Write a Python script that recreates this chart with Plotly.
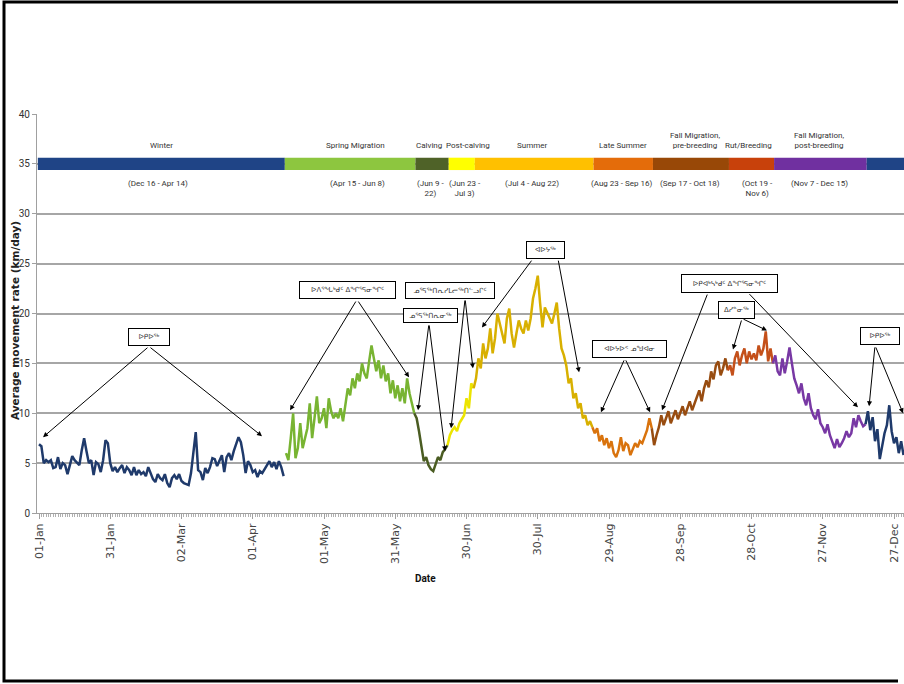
import pandas as pd
import plotly.graph_objects as go

YEAR_START = pd.Timestamp("2015-01-01")

# ---------------- data ----------------
season_names = ["Winter", "Spring Migration", "Calving", "Post-calving", "Summer",
                "Late Summer", "Fall Migration,<br>pre-breeding", "Rut/Breeding",
                "Fall Migration,<br>post-breeding", ""]
season_ranges = ["(Dec 16 - Apr 14)", "(Apr 15 - Jun 8)", "(Jun 9 -<br>22)", "(Jun 23 -<br>Jul 3)",
                 "(Jul 4 - Aug 22)", "(Aug 23 - Sep 16)", "(Sep 17 - Oct 18)", "(Oct 19 -<br>Nov 6)",
                 "(Nov 7 - Dec 15)", ""]
season_start = ["2015-01-01", "2015-04-15", "2015-06-09", "2015-06-23", "2015-07-04",
                "2015-08-23", "2015-09-17", "2015-10-19", "2015-11-07", "2015-12-16"]
season_end = ["2015-04-14", "2015-06-08", "2015-06-22", "2015-07-03", "2015-08-22",
              "2015-09-16", "2015-10-18", "2015-11-06", "2015-12-15", "2015-12-31"]
season_bar_colors = ["#1f4486", "#8dc63f", "#4f6228", "#ffff00", "#ffc000",
                     "#e46c0a", "#984807", "#c8410b", "#7030a0", "#1f4486"]
season_line_colors = ["#1f3a6b", "#78b432", "#4a5c22", "#ece400", "#d8b000",
                      "#d9730d", "#984c10", "#c4501a", "#7838a4", "#1f3a6b"]

rate_winter_early = [6.9, 6.7, 5.0, 5.3, 5.1, 5.3, 4.5, 4.6, 5.6, 4.4,
                     5.0, 4.8, 3.9, 4.8, 5.7, 5.3, 5.0, 4.8, 6.3, 7.5,
                     6.2, 5.0, 5.3, 3.8, 5.1, 4.9, 4.1, 5.3, 7.3, 7.0,
                     5.0, 4.2, 4.6, 4.1, 4.5, 4.8, 4.0, 4.6, 4.3, 3.8,
                     4.6, 3.8, 4.3, 3.9, 4.1, 3.7, 4.6, 4.0, 3.4, 3.1,
                     3.9, 3.5, 3.3, 3.9, 3.0, 2.6, 3.5, 3.8, 3.4, 3.9,
                     3.2, 3.0, 2.9, 2.8, 4.0, 6.0, 8.1, 4.3, 4.1, 3.3,
                     4.5, 4.0, 4.6, 5.5, 5.4, 4.7, 5.2, 5.8, 4.1, 5.6,
                     6.0, 5.3, 6.2, 6.9, 7.6, 7.1, 5.8, 4.0, 5.2, 4.8,
                     4.1, 4.3, 3.6, 4.2, 4.0, 4.4, 4.8, 5.2, 4.6, 5.1,
                     4.4, 5.2, 4.6, 3.7]
rate_spring = [6.0, 5.3, 7.5, 10.0, 5.5, 6.5, 9.0, 6.5, 7.5, 8.5,
               11.0, 7.5, 9.5, 11.7, 9.0, 9.5, 10.5, 8.5, 11.5, 10.2,
               9.5, 10.0, 9.5, 10.5, 9.2, 10.8, 12.5, 11.8, 13.5, 12.5,
               14.0, 13.2, 15.0, 14.0, 13.5, 15.2, 16.8, 15.5, 14.2, 15.3,
               13.5, 14.8, 13.2, 14.0, 12.0, 13.3, 11.5, 12.8, 11.2, 12.5,
               11.0, 13.5, 12.0, 11.0, 10.0]
rate_calving = [9.5, 8.2, 6.5, 5.2, 5.6, 4.8, 4.4, 4.2, 4.9, 5.6, 5.3, 6.1, 6.4, 6.8]
rate_post_calving = [7.8, 8.3, 8.6, 8.2, 9.0, 9.4, 9.8, 11.5, 10.5, 13.0, 12.5]
rate_summer = [13.5, 15.5, 14.5, 17.0, 15.5, 16.5, 18.5, 16.0, 17.5, 20.0,
               19.0, 18.3, 17.0, 19.5, 20.5, 18.0, 16.6, 18.0, 19.3, 18.5,
               18.0, 19.3, 18.3, 19.5, 21.5, 22.5, 23.8, 21.0, 18.6, 20.6,
               20.0, 19.5, 19.0, 20.0, 21.1, 18.5, 16.5, 15.8, 14.8, 13.0,
               13.5, 11.5, 12.0, 10.5, 11.0, 9.5, 9.8, 8.8, 9.2, 8.6]
rate_late_summer = [8.0, 8.5, 7.2, 7.8, 6.8, 7.5, 6.5, 7.2, 6.0, 5.6,
                    6.3, 7.6, 6.2, 7.0, 6.8, 5.8, 6.5, 7.0, 6.6, 7.2,
                    7.0, 7.6, 8.3, 9.5, 8.5]
rate_fall_pre = [6.8, 7.8, 8.6, 9.8, 8.8, 9.5, 10.2, 9.0, 9.6, 10.3,
                 9.4, 10.0, 10.7, 9.8, 10.5, 11.2, 10.3, 11.0, 11.8, 12.3,
                 11.2, 12.5, 13.3, 12.6, 14.2, 13.4, 14.8, 15.2, 13.8, 14.5,
                 15.5, 14.3]
rate_rut = [14.8, 13.8, 15.5, 16.2, 14.8, 15.8, 16.5, 15.0, 16.2, 15.4,
            16.0, 15.3, 16.8, 15.8, 16.5, 18.2, 15.2, 16.5, 15.0]
rate_fall_post = [15.8, 14.2, 13.8, 15.5, 14.0, 15.2, 16.6, 15.0, 13.5, 12.8,
                  12.0, 13.0, 11.5, 10.8, 12.0, 10.5, 9.8, 9.4, 10.4, 9.0,
                  8.6, 8.0, 8.9, 7.8, 7.2, 6.5, 7.4, 6.6, 7.0, 7.5,
                  8.2, 7.6, 8.0, 9.5, 8.6, 9.8, 9.2, 8.7, 8.9]
rate_winter_late = [10.2, 8.3, 9.6, 7.2, 8.4, 5.4, 6.8, 8.0, 8.8, 10.8,
                    8.2, 7.0, 7.6, 6.0, 7.2, 5.8]

season_rates = [rate_winter_early, rate_spring, rate_calving, rate_post_calving, rate_summer,
                rate_late_summer, rate_fall_pre, rate_rut, rate_fall_post, rate_winter_late]

tick_dates = ["2015-01-01", "2015-01-31", "2015-03-02", "2015-04-01", "2015-05-01",
              "2015-05-31", "2015-06-30", "2015-07-30", "2015-08-29", "2015-09-28",
              "2015-10-28", "2015-11-27", "2015-12-27"]
tick_labels = ["01-Jan", "31-Jan", "02-Mar", "01-Apr", "01-May", "31-May", "30-Jun",
               "30-Jul", "29-Aug", "28-Sep", "28-Oct", "27-Nov", "27-Dec"]
y_ticks = [0, 5, 10, 15, 20, 25, 30, 35, 40]

callout_texts = ["ᐅᑭᐅᖅ", "ᐅᐱᕐᖓᒃᑯᑦ ᐃᖏᕐᕋᓂᖏᑦ", "ᓄᕐᕋᖅᑎᕆᓂᖅ", "ᓄᕐᕋᖅᑎᕆᓯᒪᓕᖅᑎᓪᓗᒋᑦ",
                 "ᐊᐅᔭᖅ", "ᐊᐅᔭᐅᑉ ᓄᖑᐊᓂ", "ᐅᑭᐊᒃᓴᒃᑯᑦ ᐃᖏᕐᕋᓂᖏᑦ", "ᐃᓯᓐᓂᖅ", "ᐅᑭᐅᖅ"]

# ---------------- layout helpers ----------------
def day(d):
    return (YEAR_START + pd.Timedelta(days=d)).strftime("%Y-%m-%d %H:%M:%S")

SEASON_BAR_Y = 35.0
BAR_HALF = 0.62
name_label_day = [51.4, 133.3, 164.4, 180.6, 207.4, 245.7, 276.0, 298.7, 328.2]
range_label_day = [49.9, 133.9, 164.8, 179.4, 207.4, 245.1, 273.9, 302.5, 328.8]

# callout geometry: (box centre day, box centre value, width px, height px), arrows (tail d, tail v, head d, head v)
callout_geom = [
    ((46.3, 17.6, 42, 18), [(46.3, 16.7, 1.7, 7.6), (46.3, 16.7, 93.9, 7.7)]),
    ((129.9, 22.4, 97, 18), [(133.9, 21.4, 105.7, 10.3), (133.9, 21.4, 155.8, 13.6)]),
    ((164.8, 19.75, 55, 15), [(164.2, 19.0, 159.6, 10.3), (164.2, 19.0, 171.0, 6.2)]),
    ((173.1, 22.35, 90, 17), [(179.4, 21.5, 173.5, 8.5), (179.4, 21.5, 182.7, 14.5)]),
    ((213.3, 26.4, 39, 18), [(208.0, 25.5, 186.5, 18.6), (218.5, 25.5, 227.4, 14.1)]),
    ((248.6, 16.4, 75, 18), [(246.7, 15.5, 236.6, 10.1), (246.7, 15.5, 257.3, 10.1)]),
    ((290.7, 23.05, 97, 19), [(281.7, 22.1, 262.3, 10.3), (298.5, 22.1, 344.8, 10.6)]),
    ((293.7, 20.4, 37, 18), [(296.0, 19.5, 292.2, 16.4), (296.0, 19.5, 306.5, 18.3)]),
    ((354.1, 17.7, 40, 18), [(352.0, 16.8, 349.5, 10.7), (352.0, 16.8, 363.8, 10.0)]),
]

LABEL_FONT = "Roboto, Liberation Sans Narrow, sans-serif"

fig = go.Figure()

# season rate lines
prev_x, prev_y = None, None
for i, vals in enumerate(season_rates):
    xs = list(pd.date_range(season_start[i], periods=len(vals), freq="D"))
    ys = list(vals)
    if i >= 2 and prev_x is not None:
        xs = [prev_x] + xs
        ys = [prev_y] + ys
    fig.add_trace(go.Scatter(x=xs, y=ys, mode="lines",
                             line=dict(color=season_line_colors[i], width=2.5),
                             showlegend=False, hoverinfo="skip"))
    prev_x, prev_y = xs[-1], ys[-1]

shapes = []
annotations = []

# season bar
for i, s in enumerate(season_start):
    x0 = pd.Timestamp(s) - pd.Timedelta(hours=12)
    x1 = pd.Timestamp(season_end[i]) + pd.Timedelta(hours=12 if i < len(season_start) - 1 else 36)
    shapes.append(dict(type="rect", xref="x", yref="y", x0=x0, x1=x1,
                       y0=SEASON_BAR_Y - BAR_HALF, y1=SEASON_BAR_Y + BAR_HALF,
                       fillcolor=season_bar_colors[i], line=dict(width=0), layer="above"))

for i in range(9):
    annotations.append(dict(x=day(name_label_day[i]), y=36.2, xref="x", yref="y",
                            text=season_names[i], showarrow=False, xanchor="center", yanchor="bottom",
                            font=dict(family=LABEL_FONT, size=8, color="#333333")))
    annotations.append(dict(x=day(range_label_day[i]), y=33.7, xref="x", yref="y",
                            text=season_ranges[i], showarrow=False, xanchor="center", yanchor="top",
                            font=dict(family=LABEL_FONT, size=8, color="#333333")))

# callout boxes & arrows
for txt, (box, arrows) in zip(callout_texts, callout_geom):
    bd, bv, bw, bh = box
    for (td, tv, hd, hv) in arrows:
        annotations.append(dict(x=day(hd), y=hv, xref="x", yref="y",
                                ax=day(td), ay=tv, axref="x", ayref="y",
                                text=" ", font=dict(size=1), showarrow=True,
                                arrowhead=2, arrowsize=1, arrowwidth=1, arrowcolor="#000000",
                                standoff=0, startstandoff=0))
    annotations.append(dict(x=day(bd), y=bv, xref="x", yref="y", text=txt, showarrow=False,
                            xanchor="center", yanchor="middle", width=bw - 2, height=bh - 2,
                            bgcolor="#ffffff", bordercolor="#000000", borderwidth=1, borderpad=0,
                            font=dict(family="DejaVu Sans", size=7, color="#333333")))

# axis titles
annotations.append(dict(x=(15 - 37) / 867, y=(513 - 321) / 399, xref="paper", yref="paper",
                        text="<b>Average movement rate (km/day)</b>", textangle=-90, showarrow=False,
                        xanchor="center", yanchor="middle",
                        font=dict(family="DejaVu Sans", size=10.5, color="#222222")))
annotations.append(dict(x=(425.5 - 37) / 867, y=(513 - 578) / 399, xref="paper", yref="paper",
                        text="<b>Date</b>", showarrow=False, xanchor="center", yanchor="middle",
                        font=dict(family=LABEL_FONT, size=10, color="#111111")))

# outer frame as one open path (left, top, bottom edges)
fx0 = (4 - 37) / 867
fx1 = (898 - 37) / 867
fy0 = (513 - 681) / 399
fy1 = (513 - 2) / 399
frame_path = f"M {fx1},{fy1} L {fx0},{fy1} L {fx0},{fy0} L {fx1},{fy0}"
shapes.append(dict(type="path", xref="paper", yref="paper", path=frame_path,
                   line=dict(color="#000000", width=3), fillcolor="rgba(0,0,0,0)", layer="above"))

x_lo = YEAR_START + pd.Timedelta(days=-0.84)
x_hi = YEAR_START + pd.Timedelta(days=364.2)

fig.update_layout(
    width=904, height=684,
    margin=dict(l=37, r=0, t=114, b=171, pad=0),
    paper_bgcolor="#ffffff", plot_bgcolor="#ffffff",
    shapes=shapes, annotations=annotations,
    xaxis=dict(type="date", range=[x_lo, x_hi], tickvals=tick_dates, ticktext=tick_labels,
               tickangle=-90, showgrid=False, zeroline=False,
               showline=True, linecolor="#a0a0a0", linewidth=1,
               ticks="outside", ticklen=5, tickcolor="#a0a0a0",
               minor=dict(dtick=86400000, ticks="outside", ticklen=3, tickcolor="#b0b0b0"),
               tickfont=dict(family="DejaVu Sans", size=11, color="#444444")),
    yaxis=dict(range=[0, 40], tickvals=y_ticks, showgrid=True, gridcolor="#a6a6a6", gridwidth=2,
               zeroline=False, showline=True, linecolor="#a0a0a0", linewidth=1,
               ticks="outside", ticklen=4, tickcolor="#a0a0a0",
               tickfont=dict(family=LABEL_FONT, size=10, color="#333333")),
)

fig.write_html("out.html", config={"displayModeBar": False},
               post_script="document.body.style.margin='0px';document.body.style.overflow='hidden';")
